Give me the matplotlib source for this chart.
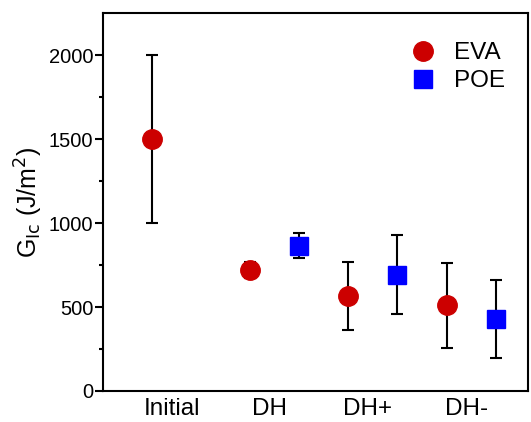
import matplotlib.pyplot as plt
import numpy as np

plt.rcParams['font.family'] = ['Liberation Sans', 'DejaVu Sans']

# Categories and measured values (J/m^2)
categories = ['Initial', 'DH', 'DH+', 'DH-']
eva_mean = [1500, 720, 567, 509]
eva_err = [500, 50, 202, 252]
poe_cat = ['DH', 'DH+', 'DH-']
poe_mean = [865, 692, 428]
poe_err = [75, 235, 230]

x = np.arange(len(categories))
x_eva = x - 0.2
x_poe = np.array([categories.index(c) for c in poe_cat]) + 0.3

fig = plt.figure(figsize=(5.31, 4.22), dpi=100)
ax = fig.add_axes([0.194, 0.0735, 0.8004, 0.8955])

ax.errorbar(x_eva, eva_mean, yerr=eva_err, fmt='o', color='#CC0000',
            markersize=14, ecolor='black', elinewidth=1.5, capsize=4.5,
            capthick=1.5, label='EVA', zorder=3)
ax.errorbar(x_poe, poe_mean, yerr=poe_err, fmt='s', color='#0000FF',
            markersize=12.5, ecolor='black', elinewidth=1.5, capsize=4.5,
            capthick=1.5, label='POE', zorder=3)

ax.set_xlim(-0.7, 3.63)
ax.set_ylim(0, 2250)
ax.set_xticks(x)
ax.set_xticklabels(categories, fontsize=17.5)
ax.set_yticks([0, 500, 1000, 1500, 2000])
ax.set_yticks(np.arange(250, 2250, 500), minor=True)
ax.tick_params(axis='y', which='major', direction='out', length=5.5, width=1.5,
               labelsize=14.5, pad=1.5)
ax.tick_params(axis='y', which='minor', direction='out', length=3, width=1.5)
ax.tick_params(axis='x', length=0, pad=5)
for s in ax.spines.values():
    s.set_linewidth(1.5)

ax.set_ylabel(r'G$_{\mathrm{Ic}}$ (J/m$^2$)', fontsize=18, labelpad=3)

handles, labels = ax.get_legend_handles_labels()
handles = [h[0] for h in handles]
ax.legend(handles, labels, loc='upper right', frameon=False, fontsize=17.5,
          bbox_to_anchor=(0.998, 0.981), handletextpad=0.3, labelspacing=0.25)

plt.savefig('out.png', dpi=100)
